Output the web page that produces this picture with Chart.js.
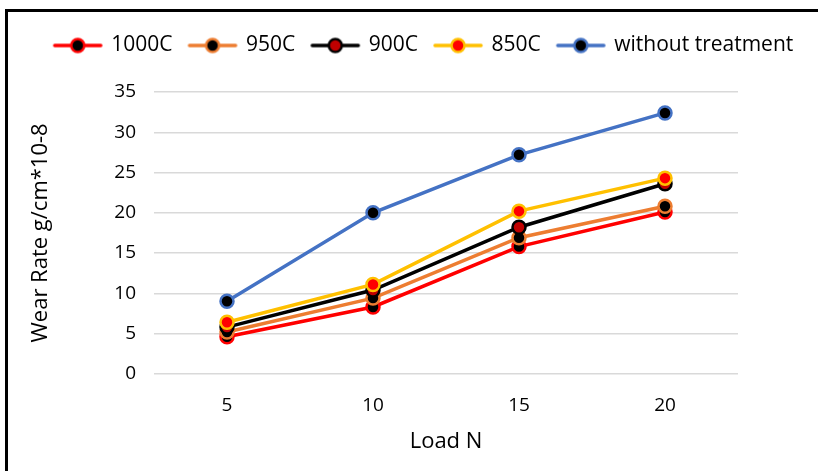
<!DOCTYPE html>
<html>
<head>
<meta charset="utf-8">
<script src="https://cdn.jsdelivr.net/npm/chart.js@4"></script>
<style>
  html, body { margin: 0; padding: 0; background: #fff; }
  #wrap { position: relative; width: 818px; height: 471px; overflow: hidden; }
  #frame { position: absolute; left: 5px; top: 9px; width: 900px; height: 600px;
           border-top: 3px solid #000; border-left: 3px solid #000; }
  canvas { position: absolute; left: 0; top: 0; }
</style>
</head>
<body>
<div id="wrap">
  <div id="frame"></div>
  <canvas id="chart" width="818" height="471"></canvas>
</div>
<script>
const loads = ['5', '10', '15', '20']
const wear1000 = [4.6, 8.3, 15.8, 20.1]
const wear950 = [5.2, 9.4, 16.9, 20.8]
const wear900 = [5.8, 10.4, 18.2, 23.6]
const wear850 = [6.4, 11.1, 20.2, 24.3]
const wearUntreated = [9.0, 20.0, 27.2, 32.4]

const FONT = "'Open Sans', sans-serif"

const series = [
  { label: '1000C', data: wear1000, line: '#FF0000', fill: '#000000' },
  { label: '950C', data: wear950, line: '#ED7D31', fill: '#000000' },
  { label: '900C', data: wear900, line: '#000000', fill: '#C00000' },
  { label: '850C', data: wear850, line: '#FFC000', fill: '#FF0000' },
  { label: 'without treatment', data: wearUntreated, line: '#4472C4', fill: '#000000' },
]

// line + marker icon for the legend
function legendIcon(s) {
  const c = document.createElement('canvas')
  c.width = 52
  c.height = 20
  const g = c.getContext('2d')
  g.strokeStyle = s.line
  g.lineWidth = 3.5
  g.lineCap = 'round'
  g.beginPath()
  g.moveTo(3, 10)
  g.lineTo(49, 10)
  g.stroke()
  g.beginPath()
  g.arc(26, 10, 6.5, 0, Math.PI * 2)
  g.fillStyle = s.fill
  g.fill()
  g.lineWidth = 2.5
  g.stroke()
  return c
}

// extra room under the legend
const legendGap = {
  id: 'legendGap',
  beforeInit(chart) {
    const fit = chart.legend.fit
    chart.legend.fit = function () {
      fit.call(this)
      this.height += 26
    }
  },
}

const ctx = document.getElementById('chart').getContext('2d')
const chart = new Chart(ctx, {
  type: 'line',
  data: {
    labels: loads,
    datasets: series.map((s, i) => ({
      label: s.label,
      data: s.data,
      borderColor: s.line,
      backgroundColor: s.fill,
      pointBackgroundColor: s.fill,
      pointBorderColor: s.line,
      pointRadius: 6.5,
      pointBorderWidth: 2.5,
      borderWidth: 3.5,
      order: series.length - i,
      tension: 0,
    })),
  },
  plugins: [legendGap],
  options: {
    responsive: false,
    animation: false,
    layout: { padding: { left: 30, right: 0, top: 18, bottom: 12 } },
    plugins: {
      tooltip: { enabled: false },
      legend: {
        display: true,
        position: 'top',
        labels: {
          font: { family: FONT, size: 21 },
          color: '#000',
          usePointStyle: true,
          pointStyleWidth: 46,
          boxHeight: 20,
          padding: 17,
          generateLabels: () => series.map((s, i) => ({
            text: s.label,
            pointStyle: legendIcon(s),
            fillStyle: s.fill,
            strokeStyle: s.line,
            lineWidth: 0,
            datasetIndex: i,
            hidden: false,
          })),
        },
      },
    },
    scales: {
      x: {
        offset: true,
        grid: { display: false },
        border: { display: false },
        ticks: { font: { family: FONT, size: 19 }, color: '#000', padding: 12 },
        title: { display: true, text: 'Load N', font: { family: FONT, size: 22 }, color: '#000', padding: { top: 0, bottom: 4 } },
      },
      y: {
        min: 0,
        max: 35,
        ticks: { stepSize: 5, font: { family: FONT, size: 19 }, color: '#000', padding: 18 },
        grid: { color: '#D9D9D9', lineWidth: 1.5, drawTicks: false },
        border: { display: false },
        title: { display: true, text: 'Wear Rate g/cm*10-8', font: { family: FONT, size: 22 }, color: '#000', padding: { top: -2, bottom: 0 } },
        afterFit: (s) => { s.width = 124 },
      },
      yr: {
        position: 'right',
        min: 0,
        max: 35,
        grid: { display: false },
        border: { display: false },
        ticks: { display: false },
        afterFit: (s) => { s.width = 80 },
      },
    },
  },
})
</script>
</body>
</html>
